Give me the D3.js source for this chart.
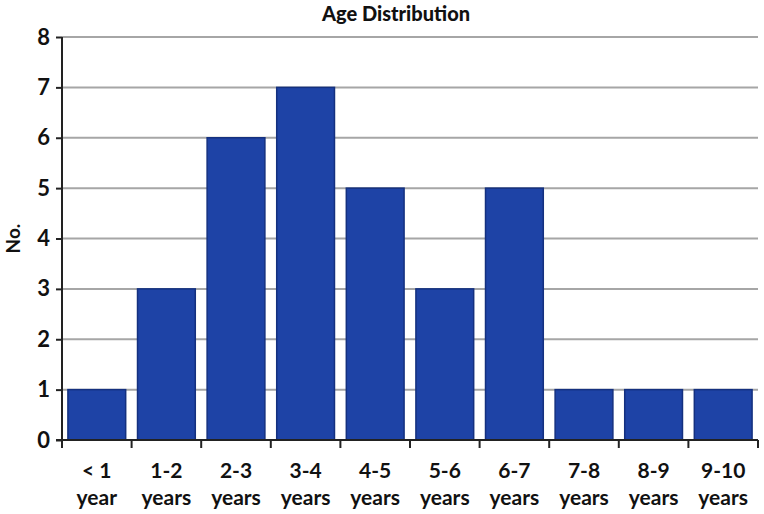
<!DOCTYPE html>
<html><head><meta charset="utf-8">
<script src="https://cdn.jsdelivr.net/npm/d3@7"></script>
<style>body{margin:0;background:#fff}</style>
</head><body>
<svg id="c" width="764" height="514"></svg>
<script>
const categories = ["< 1|year","1-2|years","2-3|years","3-4|years","4-5|years","5-6|years","6-7|years","7-8|years","8-9|years","9-10|years"];
const values = [1,3,6,7,5,3,5,1,1,1];
const yTicks = [0,1,2,3,4,5,6,7,8];
const title = "Age Distribution";
const yLabel = "No.";

const svg = d3.select("#c");
const m = {l:62, r:6, t:37, b:74};
const W = 764, H = 514;
const x = d3.scaleBand().domain(categories).range([m.l, W-m.r]).paddingInner(0.17).paddingOuter(0.085);
const xb = d3.scaleLinear().domain([0, categories.length]).range([m.l, W-m.r]);
const y = d3.scaleLinear().domain([0,8]).range([H-m.b, m.t]);
const font = "Lato, 'Open Sans', sans-serif";

// gridlines
svg.append("g").selectAll("line").data(yTicks.filter(d=>d>0)).join("line")
  .attr("x1", m.l).attr("x2", W-m.r).attr("y1", d=>y(d)).attr("y2", d=>y(d))
  .attr("stroke", "#a6a6a6").attr("stroke-width", 2);

// bars
svg.append("g").selectAll("rect").data(values).join("rect")
  .attr("x", (d,i)=>x(categories[i])).attr("width", x.bandwidth())
  .attr("y", d=>y(d)).attr("height", d=>y(0)-y(d))
  .attr("fill", "#1e43a6").attr("stroke", "#14307f").attr("stroke-width", 1.5);

// y axis
const ya = svg.append("g").attr("transform", `translate(${m.l},0)`)
  .call(d3.axisLeft(y).tickValues(yTicks).tickSize(6).tickPadding(6).tickFormat(d3.format("d")));
ya.select(".domain").attr("stroke", "#222").attr("stroke-width", 2).attr("d", `M0,${y(8)}V${y(0)}`);
ya.selectAll(".tick line").attr("stroke", "#222").attr("stroke-width", 2);
ya.selectAll(".tick text").attr("font-family", font).attr("font-weight", "bold").attr("font-size", 22).attr("fill", "#111");

// x axis
svg.append("line").attr("x1", m.l-6).attr("x2", W-m.r).attr("y1", y(0)).attr("y2", y(0))
  .attr("stroke", "#222").attr("stroke-width", 2);
svg.append("g").selectAll("line").data(d3.range(categories.length+1)).join("line")
  .attr("x1", d=>xb(d)).attr("x2", d=>xb(d)).attr("y1", y(0)).attr("y2", y(0)+8)
  .attr("stroke", "#222").attr("stroke-width", 2);

const lab = svg.append("g").selectAll("text").data(categories).join("text")
  .attr("x", d=>x(d)+x.bandwidth()/2).attr("y", y(0)+38)
  .attr("text-anchor", "middle").attr("font-family", font).attr("font-weight", "bold")
  .attr("font-size", 21).attr("fill", "#111");
lab.each(function(d){
  const parts = d.split("|");
  d3.select(this).selectAll("tspan").data(parts).join("tspan")
    .attr("x", x(d)+x.bandwidth()/2).attr("dy", (p,i)=> i===0?0:27).text(p=>p);
});

// title
svg.append("text").attr("x", 396).attr("y", 21).attr("text-anchor", "middle")
  .attr("font-family", font).attr("font-weight", "900").attr("font-size", 20).attr("fill", "#111").text(title);

// y label
svg.append("text").attr("transform", `translate(20,${y(4)}) rotate(-90)`).attr("text-anchor", "middle")
  .attr("font-family", font).attr("font-weight", "bold").attr("font-size", 19).attr("fill", "#111").text(yLabel);
</script>
</body></html>
